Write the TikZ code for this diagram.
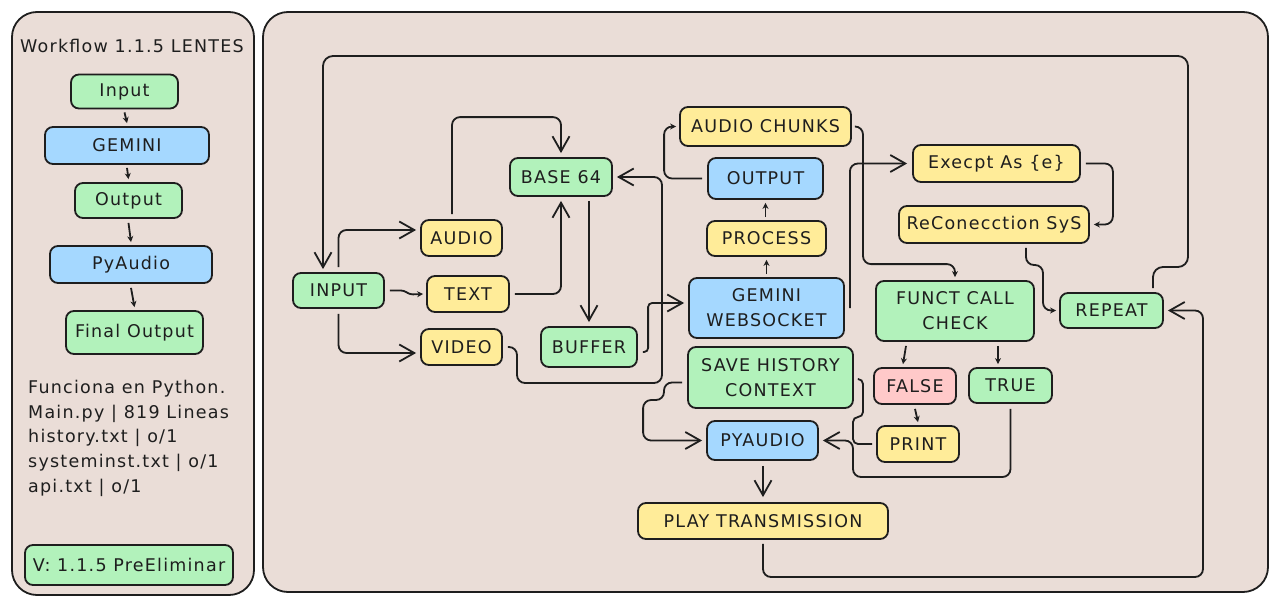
\documentclass[tikz,border=0pt]{standalone}
\usepackage{fontspec}
\setmainfont{DejaVu Sans}[LetterSpace=7]
\usetikzlibrary{arrows.meta,calc}
\definecolor{panel}{HTML}{EADDD7}
\definecolor{gfill}{HTML}{B2F2BB}
\definecolor{bfill}{HTML}{A5D8FF}
\definecolor{yfill}{HTML}{FFEC99}
\definecolor{pfill}{HTML}{FFC9C9}
\definecolor{ink}{HTML}{1E1E1E}
\begin{document}
\begin{tikzpicture}[x=1pt,y=-1pt,
  box/.style={draw=ink, line width=1.8pt, rounded corners=8pt, inner sep=0pt, align=center,
              font=\fontsize{17.5}{25}\selectfont, text=ink},
  gbox/.style={box, fill=gfill},
  bbox/.style={box, fill=bfill},
  ybox/.style={box, fill=yfill},
  pbox/.style={box, fill=pfill},
  sz/.style 2 args={minimum width=#1pt, minimum height=#2pt},
  link/.style={draw=ink, line width=1.8pt, rounded corners=8pt},
  big/.style={link, -{Straight Barb[length=15pt,width=17pt]}},
  small/.style={link, -{Stealth[length=6pt,width=6pt]}},
  label/.style={text=ink, inner sep=0pt, font=\fontsize{17.5}{24.7}\selectfont}]
\useasboundingbox (0,0) rectangle (1277,605);
\fill[white] (0,0) rectangle (1277,605);
% panels
\draw[draw=ink, line width=1.8pt, fill=panel, rounded corners=25pt] (12,12) rectangle (254,595);
\draw[draw=ink, line width=1.8pt, fill=panel, rounded corners=25pt] (263,12) rectangle (1268,592);

% left panel
\node[label] (title) at (132,46) {Workflow 1.1.5 LENTES};
\node[gbox, sz={107}{34}] (lin) at (124.5,91.5) {Input};
\node[bbox, sz={164}{37}] (lgem) at (127,145.5) {GEMINI};
\node[gbox, sz={107}{35}] (lout) at (128.5,200.5) {Output};
\node[bbox, sz={162}{37}] (lpy) at (131,264.5) {PyAudio};
\node[gbox, sz={137}{43}] (lfin) at (134.5,332.5) {Final Output};
\node[label, anchor=north west, align=left] (notes) at (28,380)
  {Funciona en Python.\\Main.py | 819 Lineas\\history.txt | o/1\\systeminst.txt | o/1\\api.txt | o/1};
\node[gbox, sz={208}{40}, font=\fontsize{17.5}{24}\selectfont] (lver) at (129,565) {V: 1.1.5 PreEliminar};

\draw[small] ([yshift=-3pt]lin.south) -- ([yshift=3pt]lgem.north);
\draw[small] ([yshift=-3pt]lgem.south) -- ([yshift=3pt]lout.north);
\draw[small] ([yshift=-4pt]lout.south) -- ([yshift=3pt]lpy.north);
\draw[small] ([yshift=-4pt]lpy.south) -- ([yshift=3pt]lfin.north);

% main nodes
\node[gbox, sz={91}{35}] (input) at (338.5,290.5) {INPUT};
\node[ybox, sz={81}{36}] (audio) at (461.5,238) {AUDIO};
\node[ybox, sz={82}{36}] (text) at (468,294) {TEXT};
\node[ybox, sz={81}{36}] (video) at (461.5,347) {VIDEO};
\node[gbox, sz={102}{38}] (base) at (561,177) {BASE 64};
\node[gbox, sz={96}{40}] (buffer) at (589,347) {BUFFER};
\node[ybox, sz={171}{39}] (chunks) at (765.5,126.5) {AUDIO CHUNKS};
\node[bbox, sz={115}{41}] (output) at (765.5,178.5) {OUTPUT};
\node[ybox, sz={119}{35}] (process) at (766.5,238.5) {PROCESS};
\node[bbox, sz={155}{60}] (gemws) at (766.5,308) {GEMINI\\WEBSOCKET};
\node[ybox, sz={167}{37}] (except) at (996.5,163.5) {Execpt As \{e\}};
\node[ybox, sz={190}{37}] (recon) at (994,224.5) {ReConecction SyS};
\node[gbox, sz={158}{60}] (funct) at (955,311) {FUNCT CALL\\CHECK};
\node[gbox, sz={103}{35}] (repeat) at (1111.5,310.5) {REPEAT};
\node[pbox, sz={82}{36}] (false) at (915,386) {FALSE};
\node[gbox, sz={83}{35}] (true) at (1010.5,385.5) {TRUE};
\node[gbox, sz={165}{61}] (save) at (770.5,377.5) {SAVE HISTORY\\CONTEXT};
\node[bbox, sz={111}{39}] (pyaudio) at (762.5,440.5) {PYAUDIO};
\node[ybox, sz={82}{36}] (print) at (918,444) {PRINT};
\node[ybox, sz={250}{36}] (play) at (763,521) {PLAY TRANSMISSION};

% connectors
\draw[big] ([yshift=5pt]input.north) |- ([xshift=-4pt,yshift=8pt]audio.west);
\draw[small, rounded corners=3pt] ([xshift=5pt]input.east) -- ++(14,0) -- ++(6,4) -- ([xshift=-3pt]text.west);
\draw[big] ([yshift=-5pt]input.south) |- ([xshift=-4pt,yshift=-6pt]video.west);
\draw[big] ([xshift=5pt]text.east) -| ([yshift=-4pt]base.south);
\draw[big] ([xshift=-9.5pt,yshift=5pt]audio.north) |- ([yshift=40pt]base.north) -- ([yshift=4pt]base.north);
\draw[big] ([yshift=-4pt]base.south -| buffer.north) -- ([yshift=4pt]buffer.north);
\draw[big] ([xshift=5pt]video.east) -| (517,383) -| (662,177) -- ([xshift=4pt]base.east);
\draw[big, rounded corners=4pt] ([xshift=5pt,yshift=-5pt]buffer.east) -| ([xshift=-40pt,yshift=5pt]gemws.west) -- ([xshift=-4pt,yshift=5pt]gemws.west);
\draw[small] ([yshift=3pt]gemws.north) -- ([yshift=-3pt]process.south);
\draw[small] ([yshift=3pt]process.north -| output.south) -- ([yshift=-3pt]output.south);
\draw[small] ([xshift=-5pt]output.west) -| ([xshift=-15pt]chunks.west) -- ([xshift=-3pt]chunks.west);
\draw[small] ([xshift=4pt]chunks.east) -| ([xshift=-92pt,yshift=16pt]funct.north) -| ([yshift=3pt]funct.north);
\draw[big] ([xshift=5pt]gemws.east) |- ([xshift=-5pt]except.west);
\draw[small] ([xshift=5pt]except.east) -| ([xshift=23pt]recon.east) -- ([xshift=4pt]recon.east);
\draw[small] ([xshift=32pt,yshift=-4pt]recon.south) |- (1043,265) |- ([xshift=-3pt]repeat.west);
\draw[small] ([xshift=-49pt,yshift=-4pt]funct.south) -- ([xshift=-12pt,yshift=3pt]false.north);
\draw[small] ([xshift=43pt,yshift=-4pt]funct.south) -- ([xshift=-12.5pt,yshift=3pt]true.north);
\draw[small] ([yshift=-4pt]false.south) -- ([yshift=3pt]print.north);
\draw[link, rounded corners=5pt] ([xshift=-4pt]print.west) -| (853,417) -| (863,379) -- ([xshift=4pt,yshift=-1.5pt]save.east);
\draw[big] ([xshift=-5pt,yshift=-5pt]save.west) -| (664,400) -| ([xshift=-63pt]pyaudio.west) -- ([xshift=-4pt]pyaudio.west);
\draw[big] ([yshift=-5pt]true.south) |- (853,477) |- ([xshift=4pt]pyaudio.east);
\draw[big] ([yshift=-5pt]pyaudio.south -| play.north) -- ([yshift=5pt]play.north);
\draw[big] ([yshift=-4pt]play.south) |- (1203,577) |- ([xshift=4pt]repeat.east);
\draw[big, rounded corners=10pt] ([xshift=41.5pt,yshift=4pt]repeat.north) |- (1188,267) |- (323,56) -- ([xshift=-15.5pt,yshift=3pt]input.north);
\end{tikzpicture}
\end{document}
